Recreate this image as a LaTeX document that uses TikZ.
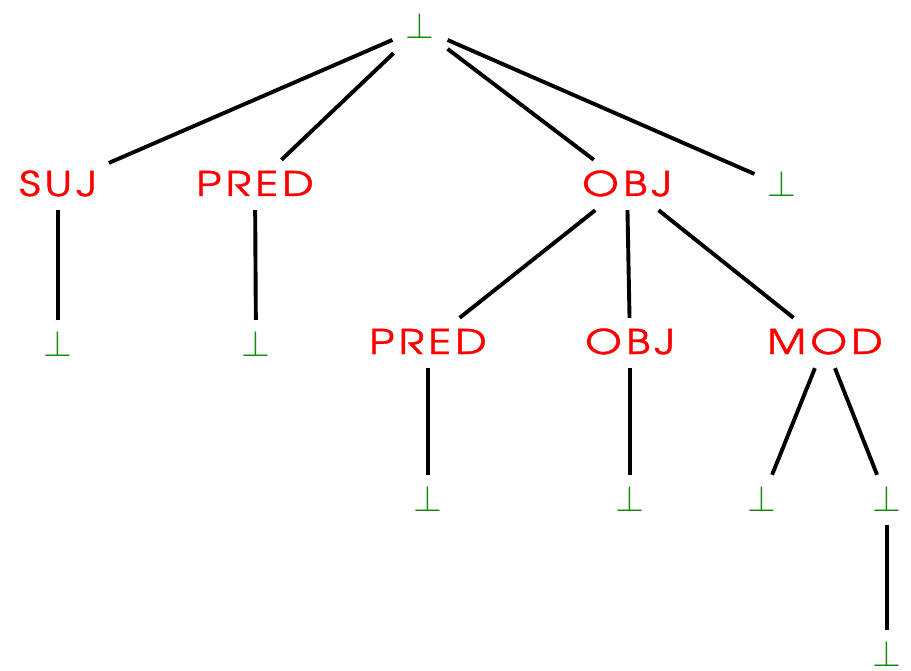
\documentclass[tikz,border=0pt]{standalone}
\usepackage{fontspec}
\newfontfamily\lblfont{TeX Gyre Adventor}[LetterSpace=10,FakeBold=1.1]
\definecolor{lblred}{RGB}{255,0,0}
\definecolor{botgreen}{RGB}{20,140,20}
\begin{document}
\begin{tikzpicture}[x=1pt,y=-1pt,
  lbl/.style={text=lblred, font=\lblfont\fontsize{34}{40}\selectfont,
    text height=29pt, text depth=7pt, inner ysep=7pt, inner xsep=12pt},
  bt/.style={text=botgreen, text height=29pt, text depth=7pt,
    inner ysep=7pt, inner xsep=13pt},
  edge/.style={line width=3.9pt}]
\useasboundingbox (0,0) rectangle (911,671);
\newcommand{\botsym}{\scalebox{3.7}{$\bot$}}
\newcommand{\wide}[1]{\scalebox{1.24}[1]{#1}}
% level 0
\node[bt] (root) at (420,28) {\botsym};
% level 1
\node[lbl] (suj) at (58,185) {\wide{SUJ}};
\node[lbl] (pred1) at (255,185) {\wide{PRED}};
\node[lbl] (obj1) at (627,185) {\wide{OBJ}};
\node[bt] (b1) at (782,186) {\botsym};
% level 2
\node[bt] (bsuj) at (58,345) {\botsym};
\node[bt] (bpred) at (256,345) {\botsym};
\node[lbl] (pred2) at (428,343) {\wide{PRED}};
\node[lbl] (obj2) at (630,343) {\wide{OBJ}};
\node[lbl] (mod) at (825,343) {\wide{MOD}};
% level 3
\node[bt] (bpred2) at (428,500) {\botsym};
\node[bt] (bobj2) at (630,500) {\botsym};
\node[bt] (bml) at (762,500) {\botsym};
\node[bt] (bmr) at (887,500) {\botsym};
% level 4
\node[bt] (bbot) at (887,655) {\botsym};
% edges
\draw[edge] (root) -- (suj);
\draw[edge] (root) -- (pred1);
\draw[edge] (root) -- (obj1);
\draw[edge] (root) -- (b1);
\draw[edge] (suj) -- (bsuj);
\draw[edge] (pred1) -- (bpred);
\draw[edge] (obj1) -- (pred2);
\draw[edge] (obj1) -- (obj2);
\draw[edge] (obj1) -- (mod);
\draw[edge] (pred2) -- (bpred2);
\draw[edge] (obj2) -- (bobj2);
\draw[edge] (mod) -- (bml);
\draw[edge] (mod) -- (bmr);
\draw[edge] (bmr) -- (bbot);
\end{tikzpicture}
\end{document}
